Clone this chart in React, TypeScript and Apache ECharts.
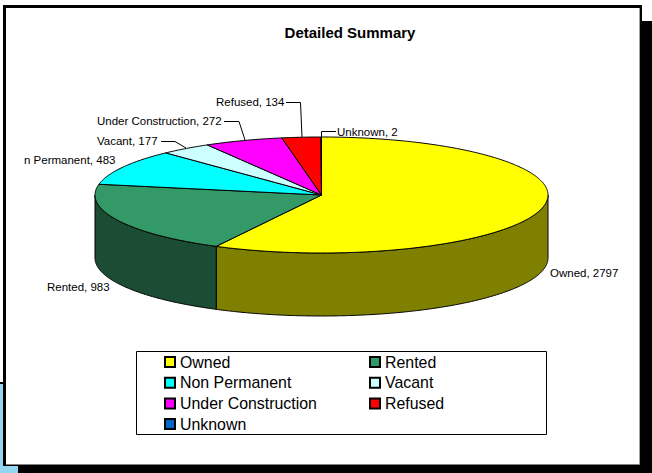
import React, { useEffect, useRef } from "react";
import * as echarts from "echarts";

const categories = ["Owned", "Rented", "Non Permanent", "Vacant", "Under Construction", "Refused", "Unknown"];
const values = [2797, 983, 483, 177, 272, 134, 2];
const topColors = ["#ffff00", "#339966", "#00ffff", "#ccffff", "#ff00ff", "#ff0000", "#0066cc"];
const wallColors = ["#808000", "#1a4d33", "#008080", "#668080", "#800080", "#800000", "#003366"];
const legendLeft = ["Owned", "Non Permanent", "Under Construction", "Unknown"];
const legendRight = ["Rented", "Vacant", "Refused"];

const labelTexts = ["Owned, 2797", "Rented, 983", "n Permanent, 483", "Vacant, 177", "Under Construction, 272", "Refused, 134", "Unknown, 2"];
const labelPos: number[][] = [[550, 273], [47, 287], [24, 160], [97, 141], [97, 121], [216, 102], [337, 132]];
const leaders: (number[][] | null)[] = [
  null,
  null,
  null,
  [[161, 141.5], [175, 141.5], [186, 148]],
  [[224, 121.5], [239, 121.5], [245, 140]],
  [[286, 102.5], [300.5, 102.5], [302, 137]],
  [[321.5, 137], [321.5, 131.5], [336, 131.5]],
];

const CX = 321.5, CY = 195, RX = 226.5, RY = 58, DEPTH = 63;
const total = values.reduce((a, b) => a + b, 0);
const point = (t: number, dy = 0): number[] => [CX + RX * Math.sin(t), CY - RY * Math.cos(t) + dy];

function arc(t0: number, t1: number, dy = 0): number[][] {
  const n = Math.max(2, Math.ceil(Math.abs(t1 - t0) / 0.01));
  const pts: number[][] = [];
  for (let i = 0; i <= n; i++) pts.push(point(t0 + ((t1 - t0) * i) / n, dy));
  return pts;
}

function cumulativeBefore(i: number): number {
  let s = 0;
  for (let k = 0; k < i; k++) s += values[k];
  return s;
}

const line = { stroke: "#000000", lineWidth: 1 };

const makeWall = (i: number) => ({
  name: categories[i] + " wall",
  type: "custom",
  coordinateSystem: "none",
  silent: true,
  z: 2,
  legendHoverLink: false,
  data: [[cumulativeBefore(i), values[i]]],
  renderItem: (_: any, api: any) => {
    const start = (api.value(0) / total) * Math.PI * 2;
    const end = ((api.value(0) + api.value(1)) / total) * Math.PI * 2;
    const a = Math.max(start, Math.PI / 2);
    const b = Math.min(end, (Math.PI * 3) / 2);
    if (b <= a) return { type: "group", children: [] };
    const top = arc(a, b);
    const bottom = arc(b, a, DEPTH);
    return {
      type: "polygon",
      shape: { points: top.concat(bottom) },
      style: { fill: wallColors[i], ...line },
    };
  },
});

const makeTop = (i: number) => ({
  name: categories[i],
  type: "custom",
  coordinateSystem: "none",
  silent: true,
  z: 3,
  itemStyle: { color: topColors[i], borderColor: "#000000", borderWidth: 1 },
  data: [[cumulativeBefore(i), values[i]]],
  renderItem: (_: any, api: any) => {
    const start = (api.value(0) / total) * Math.PI * 2;
    const end = ((api.value(0) + api.value(1)) / total) * Math.PI * 2;
    return {
      type: "polygon",
      shape: { points: [[CX, CY]].concat(arc(start, end)) },
      style: { fill: topColors[i], ...line, lineJoin: "round" },
    };
  },
});

const frame: any[] = [
  { type: "rect", shape: { x: 0, y: 384, width: 18, height: 89 }, style: { fill: "#93d6f0" } },
  { type: "rect", shape: { x: 0, y: 382, width: 4, height: 2 }, style: { fill: "#000000" } },
  { type: "rect", shape: { x: 18, y: 465, width: 634, height: 8 }, style: { fill: "#000000" } },
  { type: "rect", shape: { x: 640, y: 21, width: 12, height: 452 }, style: { fill: "#000000" } },
  { type: "rect", shape: { x: 3, y: 5, width: 639, height: 461 }, style: { fill: "#000000" } },
  { type: "rect", shape: { x: 6, y: 8, width: 633, height: 456 }, style: { fill: "#ffffff" } },
  { type: "rect", shape: { x: 639, y: 8, width: 1, height: 457 }, style: { fill: "#a0a0a0" } },
  { type: "rect", shape: { x: 6, y: 464, width: 634, height: 1 }, style: { fill: "#808080" } },
];

const labelFont = { fontFamily: "Liberation Sans", fontSize: 11.5, fill: "#000000" };

const App: React.FC = () => {
  const ref = useRef<HTMLDivElement>(null);
  useEffect(() => {
    document.body.style.margin = "0";
    const chart = echarts.init(ref.current!, undefined, { renderer: "svg" });
    const texts = labelTexts.map((t, i) => ({
      type: "text",
      x: labelPos[i][0],
      y: labelPos[i][1],
      z: 20,
      style: { text: t, ...labelFont, textVerticalAlign: "middle", verticalAlign: "middle" },
    }));
    const leaderLines = leaders
      .filter((l) => l)
      .map((l) => ({
        type: "polyline",
        z: 20,
        shape: { points: l },
        style: { stroke: "#000000", lineWidth: 1, fill: "none" },
      }));
    const legendCommon = {
      orient: "vertical",
      top: 354,
      padding: 0,
      itemWidth: 10,
      itemHeight: 10,
      itemGap: 4.7,
      selectedMode: false,
      icon: "rect",
      inactiveColor: "#000",
      textStyle: { fontFamily: "Liberation Sans", fontSize: 15.9, color: "#000000" },
      z: 30,
    };
    chart.setOption({
      animation: false,
      backgroundColor: "#ffffff",
      title: {
        text: "Detailed Summary",
        left: 350,
        top: 25,
        padding: 0,
        textAlign: "center",
        textStyle: { fontFamily: "Liberation Sans", fontSize: 15, fontWeight: "bold", color: "#000000" },
        z: 30,
      },
      legend: [
        { ...legendCommon, left: 164, data: legendLeft },
        { ...legendCommon, left: 369, data: legendRight },
      ],
      graphic: [
        ...frame.map((f) => ({ ...f, z: -10 })),
        {
          type: "rect",
          z: 1,
          shape: { x: 136.5, y: 351.5, width: 410, height: 83 },
          style: { fill: "#ffffff", stroke: "#000000", lineWidth: 1 },
        },
        ...texts,
        ...leaderLines,
      ],
      series: [...categories.map((_, i) => makeWall(i)), ...categories.map((_, i) => makeTop(i))],
    });
    return () => chart.dispose();
  }, []);
  return <div ref={ref} style={{ position: "absolute", left: 0, top: 0, width: 652, height: 473 }} />;
};

export default App;
